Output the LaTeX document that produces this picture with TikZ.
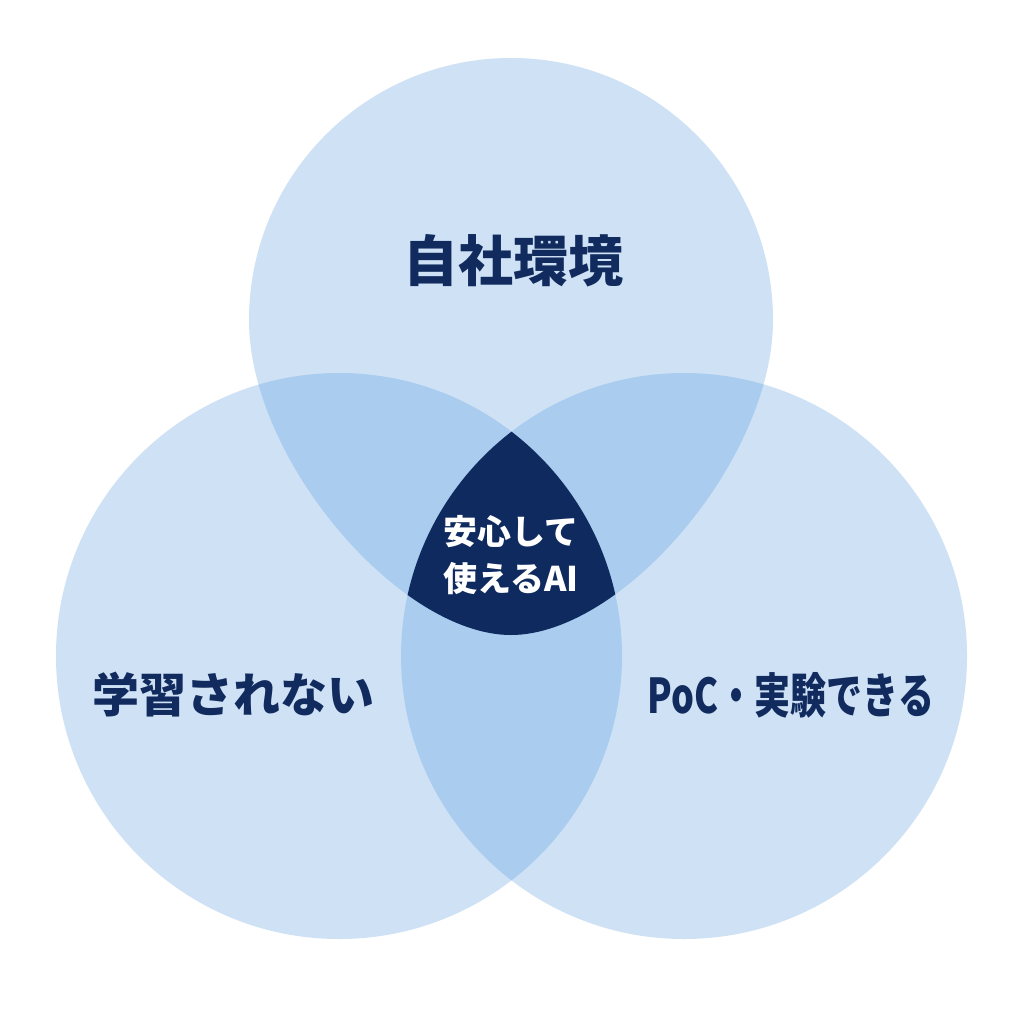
\documentclass[tikz,border=0pt]{standalone}
\usepackage{fontspec}
\usepackage{graphicx}
\newfontfamily\cjk{Noto Sans CJK JP}
\definecolor{lightc}{HTML}{CFE2F5}
\definecolor{overc}{HTML}{AACCEF}
\definecolor{darkc}{HTML}{0E2A5F}
\definecolor{textc}{HTML}{112B5E}
\tikzset{
  lbl/.style={font=\cjk\bfseries\fontsize{47}{56}\selectfont, text=textc, inner sep=0pt},
  clbl/.style={font=\cjk\bfseries\fontsize{34}{47}\selectfont, text=white, align=center, inner sep=0pt},
}
\newcommand{\topshape}{(249,320) arc[start angle=180, end angle=360, radius=262] .. controls (773,460) and (622,635) .. (511,635) .. controls (400,635) and (249,460) .. (249,320) -- cycle}
\newcommand{\leftshape}{(339,656) circle[radius=283]}
\newcommand{\rightshape}{(684,656) circle[radius=283]}
\begin{document}
\begin{tikzpicture}[x=1pt,y=-1pt]
\useasboundingbox (0,0) rectangle (1024,1024);
\fill[white] (0,0) rectangle (1024,1024);
% base circles
\fill[lightc] \topshape;
\fill[lightc] \leftshape;
\fill[lightc] \rightshape;
% pairwise overlaps
\begin{scope}
  \clip \topshape;
  \fill[overc] \leftshape;
  \fill[overc] \rightshape;
\end{scope}
\begin{scope}
  \clip \leftshape;
  \fill[overc] \rightshape;
\end{scope}
% triple overlap
\begin{scope}
  \clip \topshape;
  \clip \leftshape;
  \fill[darkc] \rightshape;
\end{scope}
% labels
\node[lbl, font=\cjk\bfseries\fontsize{55}{60}\selectfont] (top) at (513,261) {自社環境};
\node[lbl] (left) at (233,695) {学習されない};
\node[lbl, font=\cjk\bfseries\fontsize{48}{56}\selectfont] (right) at (791,695) {\scalebox{0.75}[1]{PoC・実験できる}};
\node[clbl] (center) at (511,555) {安心して\\使えるAI};
\end{tikzpicture}
\end{document}
